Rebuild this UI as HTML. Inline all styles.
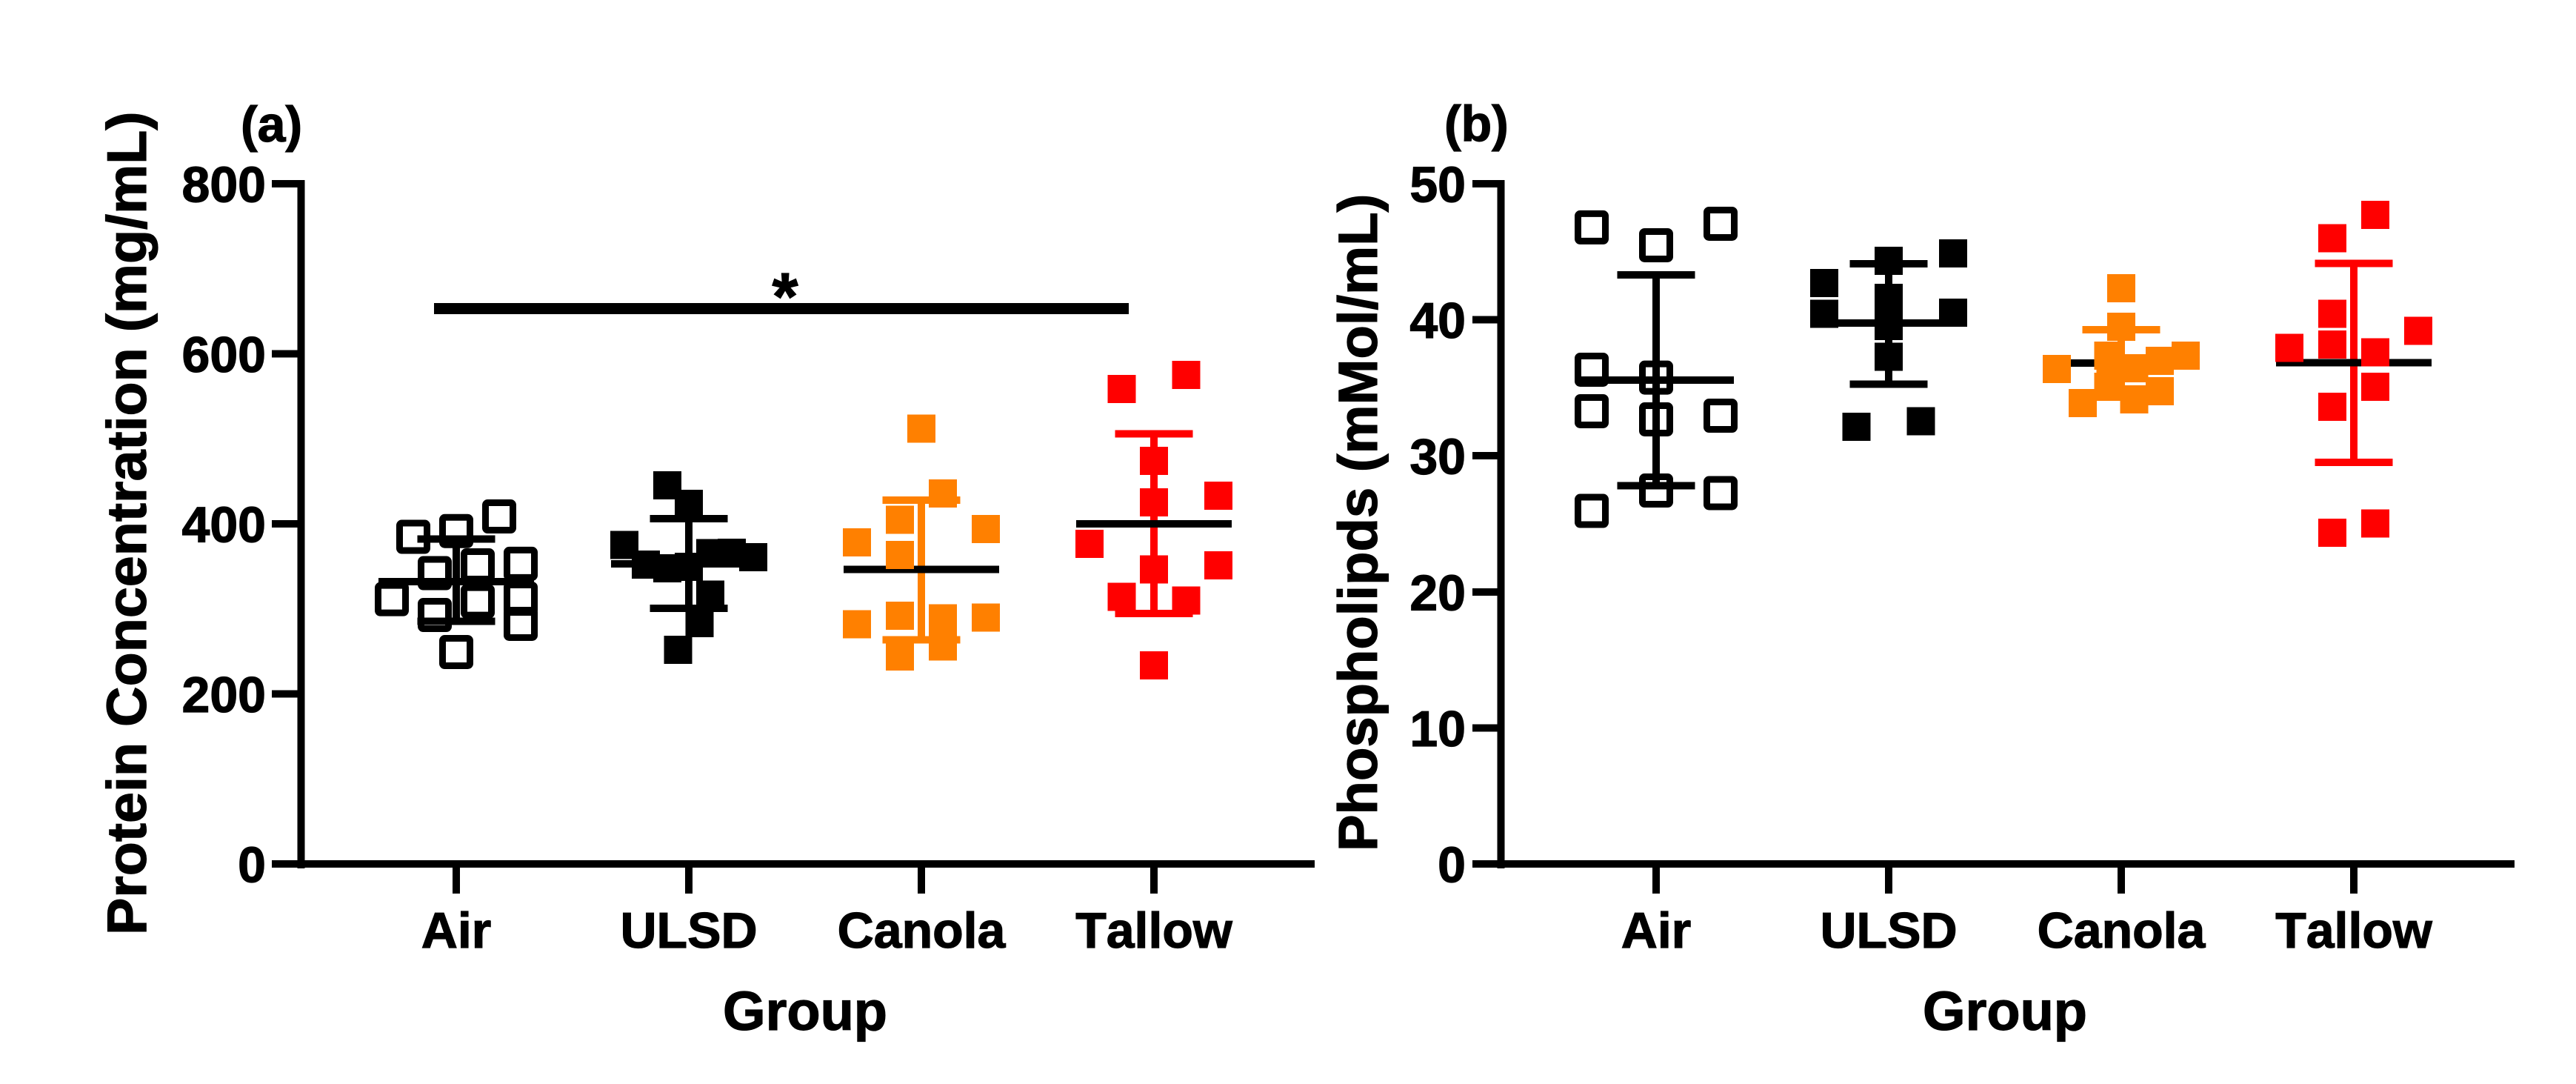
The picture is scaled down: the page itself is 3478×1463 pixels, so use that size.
<!DOCTYPE html>
<html lang="en">
<head>
<meta charset="utf-8">
<title>Protein concentration and phospholipids by group</title>
<style>
  html, body { margin: 0; padding: 0; background: #fff; }
  svg { display: block; }
  text { font-family: "Liberation Sans", Arial, sans-serif; font-weight: 700; fill: #000; stroke: #000; stroke-width: 1.2; font-kerning: none; }
</style>
</head>
<body>
<svg id="figure" xmlns="http://www.w3.org/2000/svg" width="3478" height="1463" viewBox="0 0 3478 1463">
  <rect x="0" y="0" width="3478" height="1463" fill="#fff"/>
  <g id="panel-a"></g>
  <g id="panel-b"></g>

  <text x="325" y="191" font-size="68">(a)</text>
  <text x="1950" y="190" font-size="68">(b)</text>

  <text transform="translate(197,1262) rotate(-90)" font-size="75.5">Protein Concentration (mg/mL)</text>
  <text transform="translate(1859,1149) rotate(-90)" font-size="74.3">Phospholipds (mMol/mL)</text>

  <text x="1087" y="1390" font-size="74" text-anchor="middle">Group</text>
  <text x="2707" y="1390" font-size="74" text-anchor="middle">Group</text>

  <rect x="586" y="409" width="938" height="15" fill="#000"/>
  <text x="1060" y="431" font-size="90" text-anchor="middle">*</text>
</svg>

<script>
// ----- Shared categories -----
const categories = ['Air', 'ULSD', 'Canola', 'Tallow'];
const seriesColors = ['#000000', '#000000', '#FF8000', '#FF0000'];
const seriesHollow = [true, false, false, false];

// ----- Panel (a): Protein Concentration (mg/mL) -----
const aTickLabels = [0, 200, 400, 600, 800];
const aAirValues = [384.7, 391.5, 408.7, 342, 351.2, 353, 311.4, 308.8, 312, 292.8, 282.4, 249.2];
const aAirSlots = [-2, 0, 2, -1, 1, 3, -3, 1, 3, -1, 3, 0];
const aUlsdValues = [445.3, 423.5, 375.3, 352.1, 347.5, 349.3, 365.4, 366, 360.8, 316.6, 283.2, 251.9];
const aUlsdSlots = [-1, 0, -3, -2, -1, 0, 1, 2, 3, 1, 0.5, -0.5];
const aCanolaValues = [511.9, 435.7, 394.1, 404.6, 378, 363.5, 291.9, 289.1, 289.6, 281.8, 255.7, 244];
const aCanolaSlots = [0, 1, 3, -1, -3, -1, -1, 1, 3, -3, 1, -1];
const aTallowValues = [575.3, 558.6, 474.1, 425.3, 433.1, 376.5, 346.3, 351.2, 314.1, 309.6, 233.6];
const aTallowSlots = [1.5, -1.5, 0, 0, 3, -3, 0, 3, -1.5, 1.5, 0];
const aMeans = [332, 352.9, 346.3, 400.2];
const aUpper = [382.1, 406.1, 428, 505.8];
const aLower = [285.4, 300.7, 263.5, 294.6];

// ----- Panel (b): Phospholipds (mMol/mL) -----
const bTickLabels = [0, 10, 20, 30, 40, 50];
const bAirValues = [46.79, 45.48, 47.06, 36.33, 35.75, 33.28, 32.68, 32.95, 27.45, 27.26, 25.95];
const bAirSlots = [-3, 0, 3, -3, 0, -3, 0, 3, 0, 3, -3];
const bUlsdValues = [42.7, 40.45, 44.34, 41.62, 39.54, 37.29, 44.88, 40.52, 32.14, 32.54];
const bUlsdSlots = [-3, -3, 0, 0, 0, 0, 3, 3, -1.5, 1.5];
const bCanolaValues = [42.32, 39.49, 36.37, 33.88, 37.36, 36.22, 35.08, 36.44, 34.15, 36.98, 34.75, 37.36];
const bCanolaSlots = [0, 0, -3, -1.8, -0.6, -0.5, -0.6, 0.6, 0.6, 1.8, 1.8, 3];
const bTallowValues = [47.71, 45.99, 40.44, 38.19, 37.94, 39.19, 37.61, 35.08, 33.61, 25.02, 24.35];
const bTallowSlots = [1, -1, -1, -1, -3, 3, 1, 1, -1, 1, -1];
const bMeans = [35.57, 39.77, 36.82, 36.86];
const bUpper = [43.3, 44.12, 39.27, 44.15];
const bLower = [27.8, 35.26, 34.37, 29.52];

// ----- Layout -----
const NS = 'http://www.w3.org/2000/svg';
const PLOT_TOP = 248;
const PLOT_BOTTOM = 1166;
const LINE_W = 10;
const CAP_HALF = 52.5;
const MEAN_HALF = 105;
const SLOT_W = 29;
const FILLED_SIZE = 38;
const HOLLOW_SIZE = 37;
const HOLLOW_STROKE = 9;

function mk(parent, tag, attrs) {
  const el = document.createElementNS(NS, tag);
  for (const k in attrs) el.setAttribute(k, attrs[k]);
  parent.appendChild(el);
  return el;
}

function hRect(parent, x1, x2, yc, color) {
  return mk(parent, 'rect', { x: x1, y: yc - LINE_W / 2, width: x2 - x1, height: LINE_W, fill: color, 'shape-rendering': 'crispEdges' });
}

function vRect(parent, xc, y1, y2, color) {
  return mk(parent, 'rect', { x: xc - LINE_W / 2, y: y1, width: LINE_W, height: y2 - y1, fill: color, 'shape-rendering': 'crispEdges' });
}

function drawPanel(root, cfg) {
  const maxTick = cfg.ticks[cfg.ticks.length - 1];
  const yScale = v => PLOT_BOTTOM - (v / maxTick) * (PLOT_BOTTOM - PLOT_TOP);
  const xScale = i => cfg.firstX + i * cfg.stepX;

  // Axes
  const yAxis = vRect(root, cfg.axisX, PLOT_TOP - LINE_W / 2, PLOT_BOTTOM + LINE_W / 2 + 1, '#000');
  
  
  const xAxis = hRect(root, cfg.tickLeft, cfg.axisEnd, PLOT_BOTTOM, '#000');
  
  

  cfg.ticks.forEach(t => {
    const y = yScale(t);
    const tick = hRect(root, cfg.tickLeft, cfg.axisX, y, '#000');
    
    
    const label = mk(root, 'text', { x: cfg.labelRight, y: y + 24.5, 'font-size': 68, 'text-anchor': 'end' });
    label.textContent = String(t);
    
    
  });

  categories.forEach((cat, i) => {
    const x = xScale(i);
    const tick = vRect(root, x, PLOT_BOTTOM, PLOT_BOTTOM + 40, '#000');
    
    
    const label = mk(root, 'text', { x: x, y: 1279, 'font-size': 68, 'text-anchor': 'middle' });
    label.textContent = cat;
    
    
  });

  // Series: error bars, then mean line, then markers
  categories.forEach((cat, i) => {
    const x = xScale(i);
    const color = seriesColors[i];
    const g = mk(root, 'g', {});
    
    

    const yU = yScale(cfg.upper[i]);
    const yL = yScale(cfg.lower[i]);
    const yM = yScale(cfg.means[i]);

    const stem = vRect(g, x, yU, yL, color);
    
    
    const capTop = hRect(g, x - CAP_HALF, x + CAP_HALF, yU, color);
    
    
    const capBottom = hRect(g, x - CAP_HALF, x + CAP_HALF, yL, color);
    
    
    const mean = hRect(g, x - MEAN_HALF, x + MEAN_HALF, yM, '#000');
    
    

    cfg.values[i].forEach((v, j) => {
      const cx = x + cfg.slots[i][j] * SLOT_W;
      const cy = yScale(v);
      let marker;
      if (seriesHollow[i]) {
        marker = mk(g, 'rect', { x: cx - HOLLOW_SIZE / 2, y: cy - HOLLOW_SIZE / 2, width: HOLLOW_SIZE, height: HOLLOW_SIZE, rx: 3, fill: 'none', stroke: color, 'stroke-width': HOLLOW_STROKE });
      } else {
        marker = mk(g, 'rect', { x: cx - FILLED_SIZE / 2, y: cy - FILLED_SIZE / 2, width: FILLED_SIZE, height: FILLED_SIZE, fill: color, 'shape-rendering': 'crispEdges' });
      }
      
      
    });
  });
}

drawPanel(document.getElementById('panel-a'), {
  ticks: aTickLabels,
  values: [aAirValues, aUlsdValues, aCanolaValues, aTallowValues],
  slots: [aAirSlots, aUlsdSlots, aCanolaSlots, aTallowSlots],
  means: aMeans, upper: aUpper, lower: aLower,
  axisX: 406.7, tickLeft: 367, labelRight: 359, axisEnd: 1775, firstX: 616, stepX: 314
});

drawPanel(document.getElementById('panel-b'), {
  ticks: bTickLabels,
  values: [bAirValues, bUlsdValues, bCanolaValues, bTallowValues],
  slots: [bAirSlots, bUlsdSlots, bCanolaSlots, bTallowSlots],
  means: bMeans, upper: bUpper, lower: bLower,
  axisX: 2026.7, tickLeft: 1988, labelRight: 1979, axisEnd: 3395, firstX: 2236, stepX: 314
});
</script>
</body>
</html>
